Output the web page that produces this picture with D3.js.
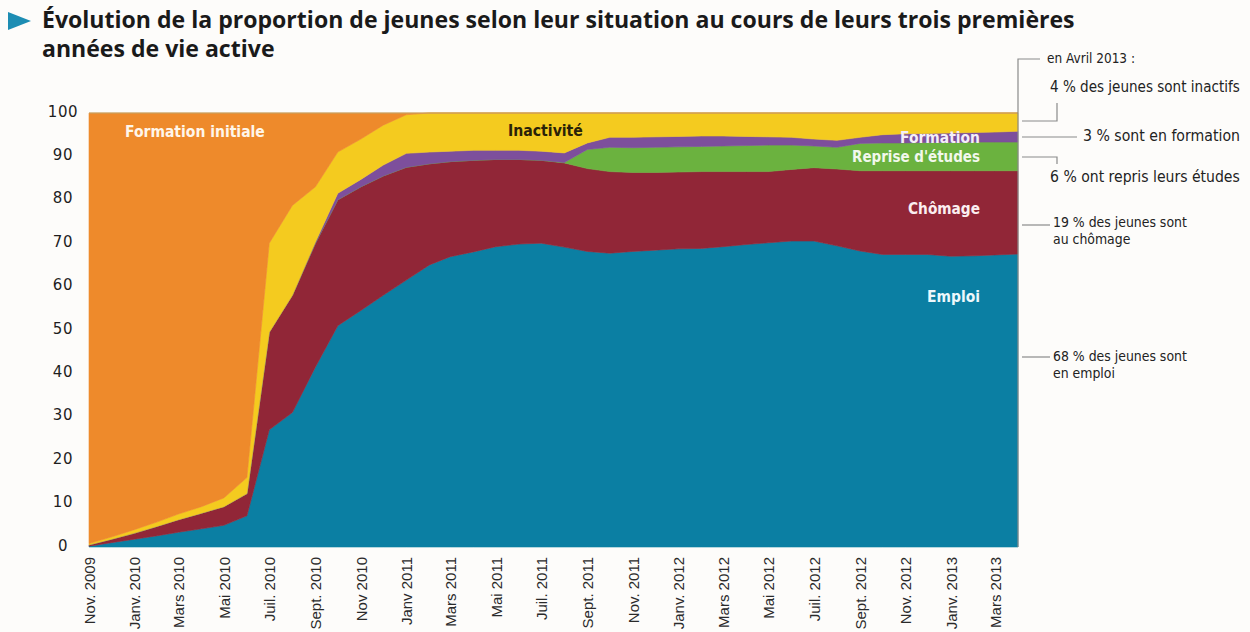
<!DOCTYPE html>
<html><head><meta charset="utf-8">
<script src="https://cdn.jsdelivr.net/npm/d3@7"></script>
<style>body{margin:0;background:#fdfcfa} svg{display:block}</style>
</head><body>
<svg id="c" width="1250" height="632"></svg>
<script>
const months = ["2009-11","2009-12","2010-01","2010-02","2010-03","2010-04","2010-05","2010-06","2010-07","2010-08","2010-09","2010-10","2010-11","2010-12",
"2011-01","2011-02","2011-03","2011-04","2011-05","2011-06","2011-07","2011-08","2011-09","2011-10","2011-11","2011-12",
"2012-01","2012-02","2012-03","2012-04","2012-05","2012-06","2012-07","2012-08","2012-09","2012-10","2012-11","2012-12",
"2013-01","2013-02","2013-03","2013-04"];
const emploi = [0.2,1.0,1.8,2.6,3.4,4.2,5.0,7.2,27,31,41.5,51,54.5,58,61.5,65,66.9,68,69.2,69.8,70,69.1,68.1,67.7,68.1,68.4,68.7,68.8,69.2,69.7,70.1,70.5,70.5,69.4,68.2,67.4,67.4,67.4,67.0,67.1,67.3,67.5];
const chomage = [0.3,0.8,1.4,2.2,2.9,3.6,4.3,5.1,22.5,27,28.5,29,28.5,27.5,26,23.3,21.9,21.1,20.1,19.5,19.1,19.4,19.1,18.8,18.2,17.9,17.7,17.7,17.3,16.8,16.4,16.5,16.9,17.7,18.5,19.3,19.3,19.3,19.7,19.6,19.4,19.2];
const reprise = [0,0,0,0,0,0,0,0,0,0,0,0,0,0,0,0,0,0,0,0,0,0.1,4.4,5.6,5.7,5.8,5.8,5.8,5.9,6.0,6.1,5.6,5.0,5.0,6.3,6.4,6.4,6.5,6.5,6.6,6.6,6.6];
const formation = [0,0,0,0,0,0,0,0,0,0,0.3,1.5,1.7,2.5,3.2,2.7,2.4,2.3,2.1,2.1,2.1,2.2,1.5,2.3,2.4,2.4,2.4,2.4,2.3,2.1,1.9,1.8,1.6,1.6,1.4,1.9,2.1,2.1,2.2,2.2,2.3,2.5];
const inactivite = [0.3,0.5,0.8,1.0,1.3,1.5,2.0,3.7,20.5,20.7,12.7,9.5,9.3,9.2,8.9,9.0,8.8,8.6,8.6,8.6,8.8,9.2,6.9,5.6,5.6,5.5,5.4,5.3,5.3,5.4,5.5,5.6,6.0,6.3,5.6,5.0,4.8,4.7,4.6,4.5,4.4,4.2];
const formationInitiale = [99.2,97.7,96.0,94.2,92.4,90.7,88.7,84.0,30,21.3,17,9,6,2.8,0.4,0,0,0,0,0,0,0,0,0,0,0,0,0,0,0,0,0,0,0,0,0,0,0,0,0,0,0];
const seriesKeys = ["Emploi","Chômage","Reprise d'études","Formation","Inactivité","Formation initiale"];
const seriesColors = ["#0b7fa3","#912637","#6bb23f","#7d4f9c","#f4cb1f","#ee8a2b"];
const tickLabels = ["Nov. 2009","Janv. 2010","Mars 2010","Mai 2010","Juil. 2010","Sept. 2010","Nov 2010","Janv 2011","Mars 2011","Mai 2011","Juil. 2011","Sept. 2011","Nov. 2011","Janv. 2012","Mars 2012","Mai 2012","Juil. 2012","Sept. 2012","Nov. 2012","Janv. 2013","Mars 2013"];
const yTicks = [0,10,20,30,40,50,60,70,80,90,100];
const titleLines = ["Évolution de la proportion de jeunes selon leur situation au cours de leurs trois premières","années de vie active"];
const notes = [
  {lines:["en Avril 2013 :"]},
  {lines:["4 % des jeunes sont inactifs"]},
  {lines:["3 % sont en formation"]},
  {lines:["6 % ont repris leurs études"]},
  {lines:["19 % des jeunes sont","au chômage"]},
  {lines:["68 % des jeunes sont","en emploi"]}
];

const parse = d3.utcParse("%Y-%m");
const rows = months.map((m,i)=>({date:parse(m),
  "Emploi":emploi[i],"Chômage":chomage[i],"Reprise d'études":reprise[i],
  "Formation":formation[i],"Inactivité":inactivite[i],"Formation initiale":formationInitiale[i]}));

const svg = d3.select("#c");
svg.append("rect").attr("width",1250).attr("height",632).attr("fill","#fdfcfa");

const x = d3.scaleUtc().domain([rows[0].date, rows[rows.length-1].date]).range([89,1018]);
const y = d3.scaleLinear().domain([0,100]).range([547,113]);

const stack = d3.stack().keys(seriesKeys)(rows);
const area = d3.area().x(d=>x(d.data.date)).y0(d=>y(d[0])).y1(d=>y(d[1]));
svg.append("g").selectAll("path").data(stack).join("path")
  .attr("d",area).attr("fill",(d,i)=>seriesColors[i])
  .attr("stroke",(d,i)=>seriesColors[i]).attr("stroke-width",0.6);

svg.append("line").attr("x1",x.range()[0]).attr("x2",x.range()[1]).attr("y1",y(100)).attr("y2",y(100))
  .attr("stroke","#bfa36a").attr("stroke-width",1.2);

function fit(sel, w){
  const n = sel.node(); const fs = parseFloat(sel.attr("font-size"));
  const L = n.getComputedTextLength(); if (L>0) sel.attr("font-size", fs*w/L);
  return parseFloat(sel.attr("font-size"));
}

// Title
svg.append("path").attr("d","M8,12 L31,21 L8,30 Z").attr("fill","#1d8db3");
const t1 = svg.append("text").attr("x",42).attr("y",28).attr("font-family","'Open Sans',sans-serif")
  .attr("font-weight","bold").attr("font-size",20).attr("fill","#1a1a1a").text(titleLines[0]);
const tfs = fit(t1, 1033);
svg.append("text").attr("x",42).attr("y",57).attr("font-family","'Open Sans',sans-serif")
  .attr("font-weight","bold").attr("font-size",tfs).attr("fill","#1a1a1a").text(titleLines[1]);

// Y axis
const ya = svg.append("g").attr("transform","translate(78,0)")
  .call(d3.axisLeft(y).tickValues(yTicks).tickSize(0).tickPadding(0));
ya.select(".domain").remove();
ya.selectAll("text").attr("font-family","'DejaVu Sans',sans-serif").attr("font-size",15)
  .attr("fill","#1e1e1e").attr("text-anchor","middle").attr("x",-15).attr("dy","0.2em")
  .attr("letter-spacing","0.6");

// X axis
const tickDates = d3.range(0, 41, 2).map(i=>rows[i].date);
const xa = svg.append("g").attr("transform","translate(0,550)")
  .call(d3.axisBottom(x).tickValues(tickDates).tickSize(0).tickFormat((d,i)=>tickLabels[i]));
xa.select(".domain").remove();
xa.selectAll("text").attr("font-family","'Liberation Sans',Arial,sans-serif").attr("font-size",15)
  .attr("fill","#2a2a2a").attr("text-anchor","end").attr("transform","rotate(-90)")
  .attr("x",-7).attr("y",0).attr("dy","0.35em");

// In-chart labels
const cond = "'Liberation Sans Narrow','DejaVu Sans Condensed','DejaVu Sans',sans-serif";
const inLabels = [
  {t:"Formation initiale", x:125, y:137, w:140, a:"start", c:"#fff6ea"},
  {t:"Inactivité", x:508, y:136, w:75, a:"start", c:"#2a2208"},
  {t:"Formation", x:980, y:143, w:80, a:"end", c:"#f4eef8"},
  {t:"Reprise d'études", x:980, y:162, w:128, a:"end", c:"#f2f8ec"},
  {t:"Chômage", x:980, y:214, w:72, a:"end", c:"#fbeef0"},
  {t:"Emploi", x:980, y:302, w:53, a:"end", c:"#eef8fc"}
];
inLabels.forEach(l=>{
  const s = svg.append("text").attr("x",l.x).attr("y",l.y).attr("text-anchor",l.a)
   .attr("font-family",cond).attr("font-stretch","condensed").attr("font-weight","bold")
   .attr("font-size",13).attr("fill",l.c).text(l.t);
  fit(s,l.w);
});

// Right annotations
const g = svg.append("g").attr("stroke","#8a8a8a").attr("stroke-width",1.2).attr("fill","none");
g.append("path").attr("d","M1018,547 V59 H1040");
g.append("path").attr("d","M1022,121 H1057 V103");
g.append("path").attr("d","M1022,137 H1077");
g.append("path").attr("d","M1022,157 H1057 V164");
g.append("path").attr("d","M1022,225 H1050");
g.append("path").attr("d","M1022,357 H1050");

const notePos = [
  {x:1047, y:[63], w:88},
  {x:1050, y:[92], w:190},
  {x:1083, y:[141], w:157},
  {x:1050, y:[182], w:190},
  {x:1053, y:[227,244], w:134},
  {x:1053, y:[361,378], w:134}
];
notes.forEach((n,i)=>{
  const p = notePos[i]; let fs = 13;
  n.lines.forEach((ln,j)=>{
    const s = svg.append("text").attr("x",p.x).attr("y",p.y[j])
      .attr("font-family",cond).attr("font-stretch","condensed")
      .attr("font-size",fs).attr("fill","#222").text(ln);
    if (j===0) fs = fit(s,p.w);
  });
});
</script>
</body></html>
